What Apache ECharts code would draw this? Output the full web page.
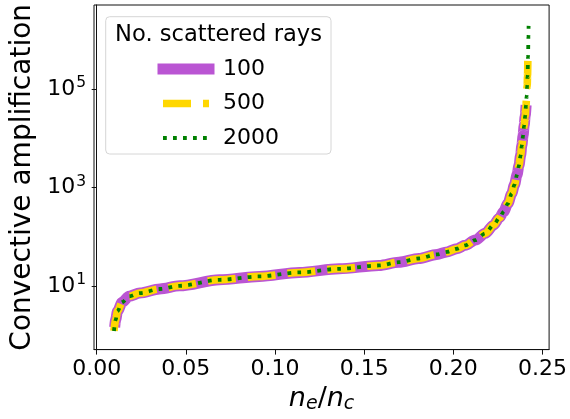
<!DOCTYPE html>
<html>
<head>
<meta charset="utf-8">
<script src="https://cdn.jsdelivr.net/npm/echarts@6/dist/echarts.min.js"></script>
<style>html,body{margin:0;padding:0;background:#fff;}#c{width:570px;height:419px;}</style>
</head>
<body>
<div id="c"></div>
<script>
// ---- data ----
const seriesNames = ['100', '500', '2000'];
const xTicks = [0, 0.05, 0.10, 0.15, 0.20, 0.25];
const yTicks = [10, 1000, 100000];

// shared body of the three curves (n_e/n_c, amplification)
const neMid  = [0.0106, 0.0117, 0.0143, 0.0182, 0.0242, 0.0354, 0.0465, 0.0689, 0.0912, 0.1136, 0.1360, 0.1583, 0.1694, 0.1806, 0.1908, 0.1964, 0.2020, 0.2067, 0.2123, 0.2179, 0.2225, 0.2259, 0.2281, 0.2306, 0.2327, 0.2343, 0.2357, 0.2368, 0.2377, 0.2384, 0.2391, 0.2397, 0.2403];
const ampMid = [2.03, 3.08, 4.69, 6.19, 7.2, 8.7, 10.1, 13.4, 15.7, 18.9, 22.4, 26.2, 30.5, 36.3, 43.9, 49.5, 57.3, 67.3, 86, 118, 173, 246, 323, 475, 757, 1150, 1830, 2820, 4500, 7160, 11400, 18200, 28900];

// start points
const ne100Start = [0.0101], amp100Start = [1.45];
const neStart    = [0.0097], ampStart    = [1.22];

// end tails
const ne100End  = [0.2408], amp100End  = [48000];
const ne500End  = [0.2407, 0.2411, 0.2414, 0.2416, 0.2418], amp500End = [46000, 73300, 117000, 186000, 430000];
const ne2000End = [0.2407, 0.2411, 0.2414, 0.2416, 0.2419, 0.2421, 0.2422], amp2000End = [46000, 73300, 117000, 186000, 471000, 1190000, 1960000];

function pairs(xs, ys) { return xs.map((x, i) => [x, ys[i]]); }
const data100  = pairs(ne100Start.concat(neMid, ne100End), amp100Start.concat(ampMid, amp100End));
const data500  = pairs(neStart.concat(neMid, ne500End), ampStart.concat(ampMid, amp500End));
const data2000 = pairs(neStart.concat(neMid, ne2000End), ampStart.concat(ampMid, amp2000End));

const FONT = 'DejaVu Sans';
const chart = echarts.init(document.getElementById('c'), null, { renderer: 'canvas' });

const supRich = {
  b: { fontSize: 22, fontFamily: FONT, color: '#000', lineHeight: 28, verticalAlign: 'middle' },
  s: { fontSize: 15.5, fontFamily: FONT, color: '#000', lineHeight: 28, verticalAlign: 'top', padding: [0, 0, 0, 1] }
};

chart.setOption({
  animation: false,
  backgroundColor: '#fff',
  grid: { left: 94, right: 19, top: 5, bottom: 67, show: true, borderColor: '#111', borderWidth: 1, backgroundColor: 'transparent' },
  xAxis: {
    type: 'value', min: -0.0015, max: 0.2537,
    axisLine: { show: true, lineStyle: { color: '#111', width: 1 } },
    axisTick: { show: true, length: 5, lineStyle: { color: '#111' }, customValues: xTicks },
    axisLabel: { customValues: xTicks, margin: 9, fontSize: 22, fontFamily: FONT, color: '#000', formatter: v => v.toFixed(2) },
    splitLine: { show: false },
    name: '{i|n}{sub|e}{r|/}{i|n}{sub|c}',
    nameLocation: 'middle', nameGap: 33,
    nameTextStyle: {
      rich: {
        i: { fontSize: 27, fontStyle: 'italic', fontFamily: FONT, color: '#000', lineHeight: 30, verticalAlign: 'middle' },
        r: { fontSize: 27, fontFamily: FONT, color: '#000', lineHeight: 30, verticalAlign: 'middle' },
        sub: { fontSize: 19, fontStyle: 'italic', fontFamily: FONT, color: '#000', lineHeight: 30, verticalAlign: 'bottom' }
      }
    }
  },
  yAxis: {
    type: 'log', logBase: 10, min: 0.509, max: 5.21e6,
    axisLine: { show: true, lineStyle: { color: '#111', width: 1 } },
    axisTick: { show: true, length: 5, lineStyle: { color: '#111' }, customValues: yTicks },
    minorTick: { show: false },
    axisLabel: {
      customValues: yTicks, margin: 8,
      formatter: v => '{b|10}{s|' + Math.round(Math.log10(v)) + '}',
      rich: supRich
    },
    splitLine: { show: false },
    name: 'Convective amplification',
    nameLocation: 'middle', nameGap: 55,
    nameTextStyle: { fontSize: 28, fontFamily: FONT, color: '#000' }
  },
  legend: {
    orient: 'vertical', left: 157.5, top: 58,
    itemWidth: 46, itemHeight: 20, itemGap: 12.5,
    padding: 0,
    itemStyle: { opacity: 0 },
    textStyle: { fontSize: 22, fontFamily: FONT, color: '#000', lineHeight: 20, padding: [0, 0, 0, 9] },
    data: [
      { name: '100', lineStyle: { width: 11, cap: 'square' }, itemStyle: { opacity: 0 } },
      { name: '500', lineStyle: { width: 7.6 }, itemStyle: { opacity: 0 } },
      { name: '2000', lineStyle: { width: 3.8 }, itemStyle: { opacity: 0 } }
    ],
    z: 10
  },
  graphic: [
    { type: 'rect', shape: { x: 105.7, y: 16.7, width: 225.3, height: 137.3, r: 4 },
      style: { fill: 'rgba(255,255,255,0.85)', stroke: '#d6d6d6', lineWidth: 1 }, z: 5 },
    { type: 'text', x: 218.5, y: 35, z: 6,
      style: { text: 'No. scattered rays', font: '22.6px "DejaVu Sans"', fill: '#000', align: 'center', verticalAlign: 'middle' } }
  ],
  series: [
    { name: seriesNames[0], type: 'line', data: data100, symbol: 'none', smooth: 0.3, smoothMonotone: 'x', z: 2,
      lineStyle: { color: '#BA55D3', width: 11, cap: 'butt' }, itemStyle: { color: '#BA55D3' } },
    { name: seriesNames[1], type: 'line', data: data500, symbol: 'none', smooth: 0.3, smoothMonotone: 'x', z: 3,
      lineStyle: { color: '#FFD700', width: 7.6, type: [28, 12], cap: 'butt' }, itemStyle: { color: '#FFD700' } },
    { name: seriesNames[2], type: 'line', data: data2000, symbol: 'none', smooth: 0.3, smoothMonotone: 'x', z: 4,
      lineStyle: { color: '#008000', width: 3.8, type: [3.8, 6.2], cap: 'butt' }, itemStyle: { color: '#008000' } }
  ]
});
</script>
</body>
</html>
